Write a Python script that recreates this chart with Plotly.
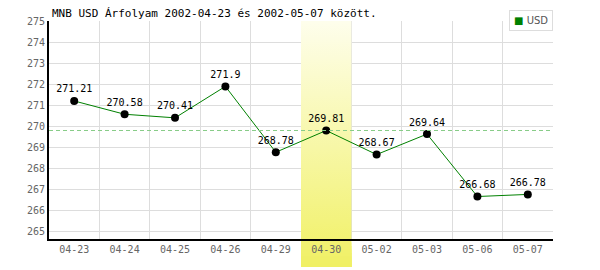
import plotly.graph_objects as go

title = "MNB USD Árfolyam 2002-04-23 és 2002-05-07 között."
categories = ["04-23", "04-24", "04-25", "04-26", "04-29", "04-30", "05-02", "05-03", "05-06", "05-07"]
usd_values = [271.21, 270.58, 270.41, 271.9, 268.78, 269.81, 268.67, 269.64, 266.68, 266.78]
series_name = "USD"
highlight_category = "04-30"
y_ticks = list(range(265, 276))
y_range = [264.667, 275]

n = len(categories)
xpos = [i + 0.5 for i in range(n)]
hi = categories.index(highlight_category)
reference_value = usd_values[hi]

# band colours: top of plot -> bottom of the band (which ends below the axis)
c0 = (254, 254, 236)
c1 = (240, 240, 100)
plot_h, below_h = 218, 28
frac_axis = plot_h / (plot_h + below_h)


def mix(t):
    return "rgb(%d,%d,%d)" % tuple(round(c0[j] + (c1[j] - c0[j]) * t) for j in range(3))


fig = go.Figure()

# highlighted day column inside the plot area (drawn as a trace so it covers the grid)
fig.add_trace(go.Scatter(
    x=[hi, hi + 1, hi + 1, hi, hi], y=[y_range[0], y_range[0], y_range[1], y_range[1], y_range[0]],
    mode="none", fill="toself",
    fillgradient=dict(type="vertical", colorscale=[[0, mix(frac_axis)], [1, mix(0)]]),
    hoverinfo="skip", showlegend=False,
))

fig.add_trace(go.Scatter(
    x=xpos, y=usd_values, mode="lines+markers+text",
    text=[f"{v:g}" for v in usd_values], textposition="top center",
    textfont=dict(family="DejaVu Sans Mono", size=10, color="#000000"),
    line=dict(color="#008000", width=1),
    marker=dict(color="#000000", size=8),
    showlegend=False, cliponaxis=False,
))

# continuation of the column below the axis, behind the tick label
shapes = []
steps = 8
bottom = -below_h / plot_h
for k in range(steps):
    t = frac_axis + (1 - frac_axis) * k / (steps - 1)
    ya = bottom * k / steps
    shapes.append(dict(type="rect", xref="x", yref="paper", x0=hi, x1=hi + 1,
                       y0=bottom, y1=ya, fillcolor=mix(t),
                       line=dict(width=0), layer="below"))
shapes.append(dict(type="line", xref="paper", yref="y", x0=0, x1=1,
                   y0=reference_value, y1=reference_value,
                   line=dict(color="#88cc88", width=1, dash="4px,3px"), layer="above"))

fig.update_layout(
    width=600, height=270,
    margin=dict(l=49, r=47, t=21, b=31),
    paper_bgcolor="#ffffff", plot_bgcolor="#ffffff",
    shapes=shapes,
    showlegend=False,
    title=dict(text=title, x=52 / 600, xanchor="left", y=1 - 13 / 270, yanchor="middle",
               font=dict(family="DejaVu Sans Mono", size=11, color="#000000")),
    annotations=[dict(
        xref="paper", yref="paper", x=1, y=1 + 11 / 218, xanchor="right", yanchor="top",
        text="<span style='color:#008000'>■</span> " + series_name,
        showarrow=False, bordercolor="#dddddd", borderwidth=1, borderpad=4,
        bgcolor="#ffffff", font=dict(family="DejaVu Sans", size=10, color="#555555"),
    )],
    xaxis=dict(range=[0, n], tickvals=xpos, ticktext=categories, showgrid=False,
               showline=True, linecolor="#000000", linewidth=2, ticks="",
               tickfont=dict(family="DejaVu Sans Mono", size=10, color="#666666"),
               minor=dict(tick0=0, dtick=1, showgrid=True, gridcolor="#dddddd", gridwidth=1),
               zeroline=False, fixedrange=True),
    yaxis=dict(range=y_range, tickvals=y_ticks, showgrid=True, gridcolor="#dddddd",
               showline=True, linecolor="#000000", linewidth=2, ticks="",
               tickfont=dict(family="DejaVu Sans Mono", size=10, color="#666666"),
               zeroline=False, fixedrange=True),
)

fig.write_html("out.html")
